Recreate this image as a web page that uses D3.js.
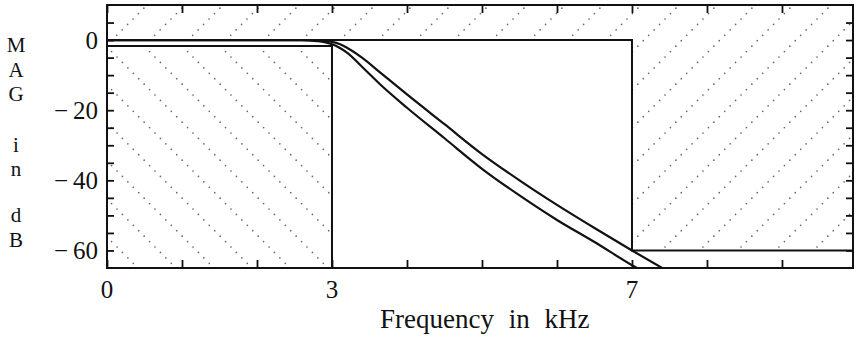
<!DOCTYPE html>
<html>
<head>
<meta charset="utf-8">
<script src="https://cdn.jsdelivr.net/npm/d3@7"></script>
<style>
  html, body { margin: 0; padding: 0; background: #fff; }
  svg { display: block; }
</style>
</head>
<body>
<svg id="chart" width="856" height="340"></svg>
<script>
// ---- data ----
const freqTicks = [0, 1, 2, 3, 4, 5, 6, 7, 8, 9];
const freqLabels = [0, 3, 7];
const magTicks = [5, 0, -5, -10, -15, -20, -25, -30, -35, -40, -45, -50, -55, -60];
const magLabels = [0, -20, -40, -60];
const yLetters = ["M", "A", "G", "i", "n", "d", "B"];

// tolerance scheme (kHz, dB)
const passEdge = 3;
const stopEdge = 7;
const passMax = 0;
const passMin = -1.7;
const stopMax = -60;

// two magnitude responses
const upperFreq = [0, 2.6, 2.8, 2.9, 3.0, 3.1, 3.2, 3.4, 3.64, 4.0, 4.5, 5.0, 5.5, 6.0, 6.5, 7.0, 7.5];
const upperMag  = [0, 0, -0.1, -0.2, -0.5, -1.1, -2.2, -5.0, -9.2, -15.5, -24.0, -32.5, -40.0, -47.0, -53.6, -60.0, -66.2];
const lowerFreq = [0, 2.6, 2.8, 2.9, 3.0, 3.1, 3.2, 3.4, 3.64, 4.0, 4.5, 5.0, 5.5, 6.0, 6.5, 7.0, 7.5];
const lowerMag  = [0, 0, -0.3, -0.6, -1.2, -2.2, -3.6, -7.6, -12.6, -19.3, -28.0, -36.7, -44.3, -51.3, -57.6, -64.2, -70.0];

// ---- layout ----
const FONT = "'Liberation Serif', Tinos, 'Times New Roman', Times, serif";
const svg = d3.select("#chart");
const L = 107, R = 853, T = 5, B = 268;
const xMax = 9.947, yMin = -65, yMax = 10;
const x = d3.scaleLinear().domain([0, xMax]).range([L, R]);
const y = d3.scaleLinear().domain([yMin, yMax]).range([B, T]);

const defs = svg.append("defs");
defs.append("clipPath").attr("id", "plotClip")
  .append("rect").attr("x", L).attr("y", T).attr("width", R - L).attr("height", B - T);

// hatch patterns made of dotted diagonal lines
const P = 38, n = 7, s = P / n;
const up = defs.append("pattern").attr("id", "hatchUp")
  .attr("patternUnits", "userSpaceOnUse").attr("width", P).attr("height", P);
d3.range(n).forEach(k => up.append("circle")
  .attr("cx", k * s + s / 2).attr("cy", P - k * s - s / 2).attr("r", 0.85).attr("fill", "#6a6a6a"));
const dn = defs.append("pattern").attr("id", "hatchDown")
  .attr("patternUnits", "userSpaceOnUse").attr("width", P).attr("height", P).attr("x", 22);
d3.range(n).forEach(k => dn.append("circle")
  .attr("cx", k * s + s / 2).attr("cy", k * s + s / 2).attr("r", 0.85).attr("fill", "#6a6a6a"));

const poly = d3.line().x(d => x(d[0])).y(d => y(d[1]));

// forbidden region above the upper bound
const upperRegion = [[0, yMax], [0, passMax], [stopEdge, passMax], [stopEdge, stopMax],
                     [xMax, stopMax], [xMax, yMax]];
svg.append("path").attr("d", poly(upperRegion) + "Z").attr("fill", "url(#hatchUp)");
// forbidden region below the passband lower bound
const lowerRegion = [[0, passMin], [passEdge, passMin], [passEdge, yMin], [0, yMin]];
svg.append("path").attr("d", poly(lowerRegion) + "Z").attr("fill", "url(#hatchDown)");

// tolerance scheme boundaries
const upperBound = [[0, passMax], [stopEdge, passMax], [stopEdge, stopMax], [xMax, stopMax]];
const lowerBound = [[0, passMin], [passEdge, passMin], [passEdge, yMin]];
svg.append("path").attr("d", poly(upperBound)).attr("fill", "none")
  .attr("stroke", "#111").attr("stroke-width", 2);
svg.append("path").attr("d", poly(lowerBound)).attr("fill", "none")
  .attr("stroke", "#111").attr("stroke-width", 2);

// responses
const curve = d3.line().x(d => x(d[0])).y(d => y(d[1])).curve(d3.curveMonotoneX);
const g = svg.append("g").attr("clip-path", "url(#plotClip)");
g.append("path").attr("d", curve(upperFreq.map((f, i) => [f, upperMag[i]])))
  .attr("fill", "none").attr("stroke", "#111").attr("stroke-width", 2.2);
g.append("path").attr("d", curve(lowerFreq.map((f, i) => [f, lowerMag[i]])))
  .attr("fill", "none").attr("stroke", "#111").attr("stroke-width", 2.2);

// axes (ticks inside the frame)
const fmt = d => d < 0 ? "\u2212\u2009" + (-d) : String(d);
const axB = svg.append("g").attr("transform", `translate(0,${B})`)
  .call(d3.axisBottom(x).tickValues(freqTicks).tickSizeInner(-8).tickSizeOuter(0).tickFormat(""));
const axT = svg.append("g").attr("transform", `translate(0,${T})`)
  .call(d3.axisTop(x).tickValues(freqTicks).tickSizeInner(-8).tickSizeOuter(0).tickFormat(""));
const axL = svg.append("g").attr("transform", `translate(${L},0)`)
  .call(d3.axisLeft(y).tickValues(magTicks).tickSizeInner(-7).tickSizeOuter(0).tickFormat(""));
const axR = svg.append("g").attr("transform", `translate(${R},0)`)
  .call(d3.axisRight(y).tickValues(magTicks).tickSizeInner(-7).tickSizeOuter(0).tickFormat(""));
[axB, axT, axL, axR].forEach(a => {
  a.select(".domain").remove();
  a.selectAll(".tick line").attr("stroke", "#111").attr("stroke-width", 1.8);
});

// frame
svg.append("rect").attr("x", L).attr("y", T).attr("width", R - L).attr("height", B - T)
  .attr("fill", "none").attr("stroke", "#111").attr("stroke-width", 2);

// tick labels
svg.append("g").selectAll("text").data(freqLabels).join("text")
  .attr("x", d => x(d)).attr("y", 298).attr("text-anchor", "middle")
  .attr("font-family", FONT).attr("font-size", 25).attr("fill", "#111").text(d => d);
svg.append("g").selectAll("text").data(magLabels).join("text")
  .attr("x", 98).attr("y", d => y(d) + 8.5).attr("text-anchor", "end")
  .attr("font-family", FONT).attr("font-size", 25).attr("fill", "#111").text(fmt);

// axis titles
svg.append("text").attr("x", 380).attr("y", 328).attr("text-anchor", "start")
  .attr("font-family", FONT).attr("font-size", 27).attr("fill", "#111")
  .attr("word-spacing", 8)
  .text("Frequency in kHz");
const letterY = [52, 76.5, 101, 152, 176, 222, 247];
const yt = svg.append("text").attr("font-family", FONT).attr("font-size", 21)
  .attr("fill", "#111").attr("text-anchor", "middle");
yt.selectAll("tspan").data(yLetters).join("tspan")
  .attr("x", 16).attr("y", (d, i) => letterY[i]).text(d => d);
</script>
</body>
</html>
